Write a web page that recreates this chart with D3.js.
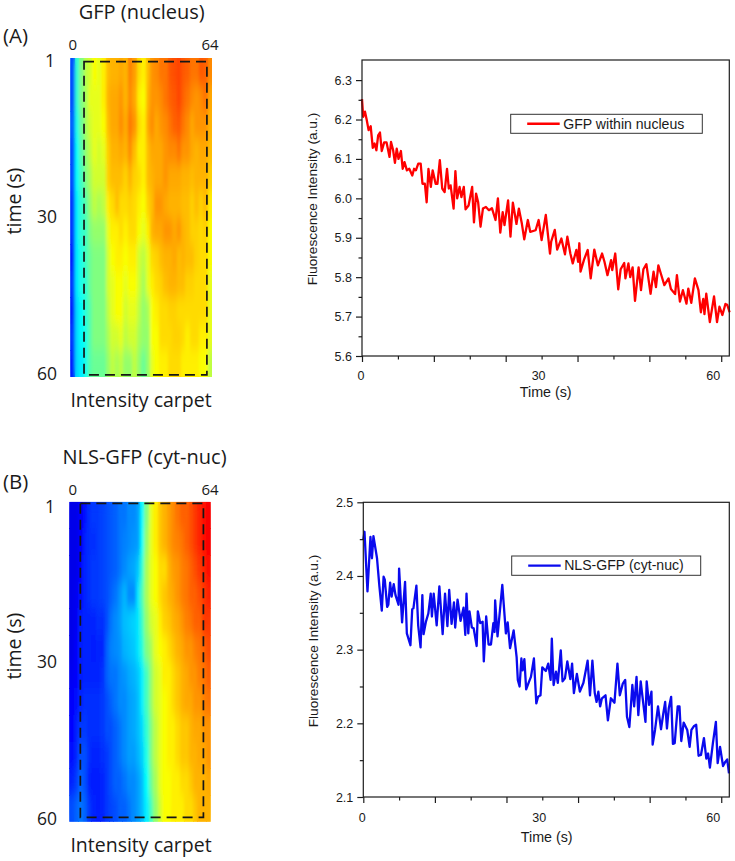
<!DOCTYPE html>
<html><head><meta charset="utf-8">
<script src="https://cdn.jsdelivr.net/npm/d3@7"></script>
<style>html,body{margin:0;padding:0;background:#fff}svg{display:block}</style>
</head><body><div id="chart"></div>
<script>
// ---- Data ----
const timesA=[0,.2,.5,.8,1.1,1.45,1.8,2.1,2.4,2.7,3,3.3,3.7,4.1,4.6,4.85,5.2,5.5,5.8,6.1,6.5,6.8,7.1,7.5,7.9,8.4,8.7,9,9.4,9.8,10.1,10.5,10.8,11.1,11.5,11.8,12.3,12.6,13,13.4,13.8,14.2,14.5,14.8,15.3,15.6,15.9,16.3,16.6,17,17.3,17.8,18.4,18.7,19.05,19.4,19.8,20.2,20.7,21.2,21.7,22.3,22.7,23.1,23.5,23.8,24.4,24.8,25.2,25.8,26.2,26.7,27.1,27.7,28.1,29,29.5,30,30.7,31.4,31.6,32.2,32.6,33.3,33.9,34.3,34.8,35.2,35.8,36.1,36.3,36.5,37.1,37.7,38.2,38.8,39.4,40.1,40.5,41,41.6,41.8,42.3,42.8,43.2,43.8,44,44.5,44.8,45.2,45.6,46.2,46.6,47,47.5,48.2,48.7,49.1,49.5,49.9,50.5,51.2,51.6,52.3,52.6,53.1,53.6,54.2,54.5,55,55.6,56.2,56.6,57,57.2,57.5,58.1,58.8,59.3,59.7,60.2,60.7,61,61.4];
const valuesA=[6.252,6.207,6.22,6.198,6.173,6.183,6.128,6.139,6.122,6.16,6.167,6.12,6.142,6.142,6.105,6.143,6.122,6.09,6.126,6.1,6.12,6.075,6.092,6.071,6.075,6.058,6.075,6.071,6.088,6.088,6.037,6.037,5.99,6.075,6.029,6.071,6.037,6.037,6.097,6.025,6.016,6.075,6.025,6.033,5.974,6.069,6,6.029,6.003,6.029,5.972,5.982,6.029,5.939,6.012,5.99,5.928,5.974,5.978,5.97,5.975,5.945,6,5.913,5.965,5.932,5.995,5.903,5.989,5.935,5.974,5.936,5.896,5.945,5.915,5.919,5.945,5.894,5.958,5.86,5.89,5.92,5.87,5.898,5.858,5.903,5.86,5.835,5.869,5.839,5.886,5.814,5.845,5.869,5.797,5.87,5.83,5.86,5.839,5.805,5.843,5.818,5.86,5.769,5.82,5.836,5.797,5.835,5.8,5.825,5.74,5.825,5.767,5.82,5.833,5.758,5.814,5.775,5.83,5.81,5.78,5.797,5.77,5.757,5.805,5.738,5.767,5.733,5.771,5.735,5.797,5.767,5.711,5.745,5.706,5.758,5.686,5.751,5.686,5.725,5.704,5.732,5.73,5.711];
const timesB=[0,.2,.7,1.2,1.45,1.7,2.3,2.7,3.1,3.4,3.6,4,4.2,4.5,4.75,5.1,5.4,5.9,6,6.5,7,7.3,7.9,8.2,8.4,8.9,9.2,9.6,9.9,10.1,10.5,10.9,11.3,11.5,11.8,12.3,12.75,13.3,13.7,14.1,14.4,14.8,15.2,15.4,15.8,16.3,16.8,17.1,17.3,17.6,17.8,18.2,18.5,19,19.2,19.6,20,20.2,20.6,21,21.4,21.8,22,22.1,22.5,23.3,23.9,24.2,24.6,25.2,25.7,25.9,26.2,26.5,26.7,27,27.3,27.8,28.1,28.6,29,29.3,29.7,30,30.6,31,31.4,31.6,31.9,32.3,32.6,33.1,33.4,33.8,34.2,34.7,35,35.3,35.8,36.3,36.9,37.6,38,38.4,38.8,39.1,39.4,39.7,40,40.6,41,41.5,42.1,42.6,43,43.5,43.9,44.2,44.6,45.1,45.4,45.8,46.1,46.5,46.8,47.3,47.5,47.9,48.3,48.5,48.9,49.4,49.9,50.3,50.6,50.9,51.2,51.6,51.9,52.2,52.7,53,53.3,53.7,54.3,54.7,55,55.4,55.8,56.2,56.6,57.1,57.5,57.8,58.1,58.6,59.1,59.4,59.8,60.3,60.7,61,61.3];
const valuesB=[2.449,2.46,2.379,2.453,2.424,2.454,2.424,2.386,2.353,2.399,2.395,2.358,2.361,2.391,2.372,2.389,2.374,2.361,2.41,2.337,2.392,2.322,2.306,2.355,2.356,2.387,2.333,2.303,2.374,2.321,2.338,2.349,2.376,2.345,2.376,2.333,2.386,2.321,2.376,2.332,2.381,2.335,2.364,2.33,2.368,2.339,2.357,2.32,2.376,2.322,2.352,2.33,2.329,2.305,2.352,2.336,2.338,2.284,2.345,2.307,2.307,2.336,2.324,2.367,2.318,2.388,2.322,2.337,2.302,2.326,2.29,2.259,2.25,2.288,2.272,2.287,2.246,2.257,2.263,2.288,2.227,2.236,2.238,2.276,2.271,2.281,2.259,2.315,2.252,2.27,2.255,2.299,2.257,2.261,2.284,2.26,2.281,2.241,2.267,2.243,2.255,2.285,2.238,2.285,2.241,2.229,2.243,2.223,2.234,2.238,2.204,2.234,2.228,2.281,2.238,2.254,2.259,2.209,2.195,2.252,2.223,2.263,2.211,2.257,2.236,2.202,2.257,2.225,2.243,2.171,2.191,2.223,2.192,2.214,2.229,2.193,2.22,2.236,2.172,2.173,2.223,2.223,2.176,2.201,2.191,2.168,2.191,2.196,2.198,2.156,2.157,2.18,2.152,2.159,2.14,2.173,2.202,2.146,2.168,2.142,2.148,2.151,2.132];
const carpetA=[
[20,42,50,56,58,62,60,64,69,70,70,71,70,75,72,66,64,69,73,74,76,76,79,80,81,79,78,76,76,79,78,74],
[20,42,50,54,60,60,60,64,70,71,71,73,70,74,71,64,62,70,73,73,74,76,78,79,81,78,76,74,73,74,76,71],
[22,40,48,54,58,60,60,62,69,71,71,74,71,76,73,66,64,71,74,71,73,74,76,78,79,76,74,71,73,73,73,70],
[20,38,46,52,56,60,58,60,67,70,70,71,70,74,69,64,64,69,71,71,71,73,74,74,76,73,73,71,70,71,71,69],
[20,38,44,50,54,58,58,58,67,69,69,69,67,70,67,66,64,69,70,71,71,73,71,71,71,70,70,69,70,70,70,67],
[18,36,42,46,52,56,54,56,64,66,69,66,66,67,66,64,62,67,69,73,73,71,70,70,70,69,69,67,69,67,69,64],
[18,36,42,44,50,52,52,52,60,64,64,66,64,66,66,62,60,64,70,71,71,73,73,71,73,70,69,67,67,66,67,62],
[16,36,40,44,48,50,50,50,58,62,64,64,62,64,64,58,56,60,66,67,69,70,70,71,69,70,69,69,67,66,66,62],
[18,36,40,42,48,50,50,50,58,60,62,62,60,62,62,58,54,60,64,66,67,69,70,70,69,69,67,67,66,66,66,60],
[16,34,38,42,46,50,50,50,56,60,62,62,58,60,60,56,52,54,62,64,66,66,67,67,66,66,66,66,66,66,66,60],
[18,34,38,40,46,50,50,50,54,58,58,60,56,58,58,54,52,52,62,62,66,66,66,67,67,66,64,66,66,64,64,60],
[16,34,36,40,46,48,48,48,52,56,54,56,52,52,56,52,48,52,60,62,64,64,66,66,66,64,64,64,64,62,62,56]];
const carpetB=[
[10,10,12,14,17,18,18,19,20,21,22,24,24,26,26,28,37,50,60,64,68,70,72,74,76,78,78,80,82,84,86,88],
[10,10,12,15,17,17,18,19,20,21,22,24,25,26,27,28,38,52,60,64,68,70,72,74,75,76,78,80,82,84,86,88],
[10,10,13,16,17,18,18,19,20,21,22,24,26,28,29,32,42,54,60,62,66,66,70,72,73,75,76,78,80,82,84,86],
[10,11,14,16,17,18,18,19,20,22,24,27,30,26,26,35,45,54,60,62,66,68,70,71,73,75,76,78,78,80,82,84],
[10,11,15,16,16,16,17,17,20,24,26,28,31,32,33,35,43,52,58,60,64,67,68,70,71,73,75,76,78,78,82,82],
[10,12,15,16,16,15,16,16,22,25,26,27,30,31,32,35,41,50,54,60,62,64,66,68,70,71,73,73,75,76,78,80],
[11,12,15,16,16,16,16,17,22,24,24,26,27,29,30,32,36,44,52,58,60,64,64,66,68,70,71,73,73,75,76,78],
[12,14,16,17,17,17,17,18,20,22,24,26,26,28,29,31,36,44,52,58,60,62,64,66,68,70,71,71,73,73,75,76],
[13,15,18,18,17,17,17,18,20,20,22,24,26,28,29,31,34,42,50,56,60,62,64,64,66,68,68,70,71,71,73,73],
[14,16,20,20,17,16,16,17,18,20,22,24,26,28,28,30,33,40,50,56,60,62,64,64,66,68,68,70,70,71,71,73],
[16,18,22,20,16,15,15,16,18,20,22,22,24,26,26,28,31,38,48,54,60,62,62,64,64,66,66,68,70,70,70,71],
[20,22,24,22,18,16,15,16,18,19,20,22,22,24,26,28,31,36,44,52,58,62,62,64,64,64,66,66,68,70,70,70]];
const xTicks=[0,6,12,18,24,30,36,42,48,54,60];
const xLabels=[0,30,60];
const yTicksA=[5.6,5.65,5.7,5.75,5.8,5.85,5.9,5.95,6,6.05,6.1,6.15,6.2,6.25,6.3];
const yTicksB=[2.1,2.15,2.2,2.25,2.3,2.35,2.4,2.45,2.5];
const carpetTimeTicks=[1,30,60];
const carpetPosTicks=[0,64];

const W=735,H=861;
const jet=d3.scaleLinear().domain([0,12.5,37.5,62.5,87.5,100])
  .range(["#00008f","#0000ff","#00ffff","#ffff00","#ff0000","#800000"]).clamp(true);
const svg=d3.select("#chart").append("svg").attr("width",W).attr("height",H).attr("viewBox",`0 0 ${W} ${H}`);
const defs=svg.append("defs");
defs.append("filter").attr("id","soft").attr("x","-5%").attr("y","-5%").attr("width","110%").attr("height","110%")
  .append("feGaussianBlur").attr("stdDeviation","1.6 7");

const TITLE="'Open Sans','Noto Sans',sans-serif", PLOT="'Liberation Sans',Arial,sans-serif";

function carpet(o){
  const g=svg.append("g");
  const nc=o.data[0].length,nr=o.data.length;
  const cx=d3.scaleBand().domain(d3.range(nc)).range([o.x0,o.x1]);
  const cy=d3.scaleBand().domain(d3.range(nr)).range([o.y0,o.y1]);
  const px=d3.scaleLinear().domain([0,64]).range([o.x0,o.x1]);
  const ty=d3.scaleLinear().domain([0,60]).range([o.y0,o.y1]);
  defs.append("clipPath").attr("id","clip"+o.id).append("rect")
    .attr("x",o.x0).attr("y",o.y0).attr("width",o.x1-o.x0).attr("height",o.y1-o.y0);
  const holder=g.append("g").attr("clip-path",`url(#clip${o.id})`);
  const layer=(p,f)=>{
    const l=p.append("g").attr("shape-rendering","crispEdges");
    if(f) l.attr("filter","url(#soft)");
    l.selectAll("g").data(o.data).join("g").each(function(row,r){
      d3.select(this).selectAll("rect").data(row).join("rect")
        .attr("x",(d,c)=>cx(c)).attr("y",cy(r))
        .attr("width",cx.bandwidth()+.5).attr("height",cy.bandwidth()+.5)
        .attr("fill",d=>jet(d));
    });
  };
  layer(holder,false); layer(holder,true);
  g.append("rect").attr("x",px(o.box[0])).attr("y",ty(o.box[2]))
    .attr("width",px(o.box[1])-px(o.box[0])).attr("height",ty(o.box[3])-ty(o.box[2]))
    .attr("fill","none").attr("stroke","#161616").attr("stroke-width",1.7).attr("stroke-dasharray","10 6");
  const t=(x,y,s,size,a)=>g.append("text").attr("x",x).attr("y",y).text(s)
    .attr("font-family",TITLE).attr("font-size",size).attr("text-anchor",a||"middle").attr("fill","#1a1a1a");
  t(o.titleX,o.titleY,o.title,20);
  t(3,o.tagY,o.tag,20.5,"start");
  carpetPosTicks.forEach((p,i)=>t(i?210:72.7,o.y0-o.posGap,p,15));
  carpetTimeTicks.forEach((v,i)=>t(v===1?55:57,o.timeLabelY[i],v,17.5,"end"));
  g.append("text").attr("transform",`translate(21,${o.timeY}) rotate(-90)`).text("time (s)")
    .attr("font-family",TITLE).attr("font-size",19.5).attr("text-anchor","middle").attr("fill","#1a1a1a");
  t(141,o.footY,"Intensity carpet",19.5);
}

function panel(o){
  const g=svg.append("g");
  const x=d3.scaleLinear().domain([0,o.xMax]).range([o.left,o.right]);
  const y=d3.scaleLinear().domain(o.yDomain).range([o.bottom,o.top]);
  const line=d3.line().x((d,i)=>x(o.times[i])).y(d=>y(d)).curve(d3.curveLinear);
  g.append("path").datum(o.values).attr("d",line).attr("fill","none")
    .attr("stroke",o.color).attr("stroke-width",2.3).attr("stroke-linejoin","round");
  g.append("rect").attr("x",o.left).attr("y",o.top).attr("width",o.right-o.left).attr("height",o.bottom-o.top)
    .attr("fill","none").attr("stroke","#1c1c1c").attr("stroke-width",1.2);
  const ax=g.append("g").attr("transform",`translate(0,${o.bottom})`)
    .call(d3.axisBottom(x).tickValues(xTicks).tickSize(0).tickFormat(""));
  ax.select(".domain").remove();
  ax.selectAll(".tick line").attr("y2",d=>d%12===0?6:3.5).attr("stroke","#1c1c1c").attr("stroke-width",1.2);
  xLabels.forEach(v=>g.append("text").attr("x",x(v)+(v===0?-1:v===30?-3:-8)).attr("y",o.bottom+o.xLabGap)
    .text(v).attr("text-anchor","middle").attr("font-family",PLOT).attr("font-size",12.5).attr("fill","#1a1a1a"));
  const ay=g.append("g").attr("transform",`translate(${o.left},0)`)
    .call(d3.axisLeft(y).tickValues(o.yTicks).tickSize(0).tickPadding(0).tickFormat(""));
  ay.select(".domain").remove();
  const major=d=>Math.abs(d*10-Math.round(d*10))<1e-6;
  ay.selectAll(".tick line").attr("x2",d=>major(d)?-6:-3.5).attr("stroke","#1c1c1c").attr("stroke-width",1.2);
  o.yTicks.filter(major).forEach(v=>g.append("text").attr("x",o.left-o.yLabGap).attr("y",y(v)+4.5)
    .text(d3.format(".1f")(v)).attr("text-anchor","end").attr("font-family",PLOT).attr("font-size",12.5).attr("fill","#1a1a1a"));
  g.append("text").attr("transform",`translate(${o.yTitleX},${o.yTitleY}) rotate(-90)`).text("Fluorescence Intensity (a.u.)")
    .attr("text-anchor","middle").attr("font-family",PLOT).attr("font-size",13.7).attr("fill","#1a1a1a");
  g.append("text").attr("x",o.xTitleX).attr("y",o.xTitleY).text("Time (s)")
    .attr("text-anchor","middle").attr("font-family",PLOT).attr("font-size",14.3).attr("fill","#1a1a1a");
  const L=o.legend;
  g.append("rect").attr("x",L.x0).attr("y",L.y0).attr("width",L.x1-L.x0).attr("height",L.y1-L.y0)
    .attr("fill","#fff").attr("stroke","#333").attr("stroke-width",1);
  g.append("line").attr("x1",L.x0+16.5).attr("x2",L.x0+49).attr("y1",(L.y0+L.y1)/2).attr("y2",(L.y0+L.y1)/2)
    .attr("stroke",o.color).attr("stroke-width",2.4);
  g.append("text").attr("x",L.x0+52.5).attr("y",(L.y0+L.y1)/2+4.8).text(L.text)
    .attr("font-family",PLOT).attr("font-size",14.1).attr("fill","#1a1a1a");
}

carpet({id:"A",data:carpetA,x0:70.3,x1:212,y0:58,y1:377,box:[6.2,61.7,.7,59.6],
  title:"GFP (nucleus)",titleX:141.7,titleY:19,tag:"(A)",tagY:43,posGap:8,
  timeLabelY:[67,222.7,380],timeY:201,footY:407});
carpet({id:"B",data:carpetB,x0:69.3,x1:210.7,y0:501.7,y1:821.7,box:[5,60.7,.3,59.2],
  title:"NLS-GFP (cyt-nuc)",titleX:144.5,titleY:464,tag:"(B)",tagY:489,posGap:7,
  timeLabelY:[513,668,825],timeY:646,footY:851.7});
panel({times:timesA,values:valuesA,color:"#ff0000",left:362,right:729.3,top:60,bottom:356,
  xMax:61.35,yDomain:[5.6,6.351],yTicks:yTicksA,xLabGap:24,yLabGap:10,
  yTitleX:316.5,yTitleY:199,xTitleX:545.7,xTitleY:397,
  legend:{x0:510.7,x1:702.3,y0:114.3,y1:133.3,text:"GFP within nucleus"}});
panel({times:timesB,values:valuesB,color:"#0a0aee",left:363.3,right:729.3,top:502.3,bottom:797,
  xMax:61.35,yDomain:[2.1,2.5],yTicks:yTicksB,xLabGap:24.5,yLabGap:10,
  yTitleX:317.5,yTitleY:641,xTitleX:546.7,xTitleY:842,
  legend:{x0:511.7,x1:700.7,y0:556,y1:575.3,text:"NLS-GFP (cyt-nuc)"}});
</script></body></html>
